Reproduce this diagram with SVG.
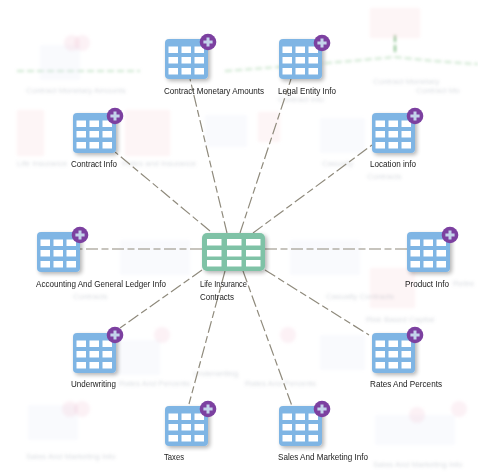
<svg xmlns="http://www.w3.org/2000/svg" width="478" height="472" viewBox="0 0 478 472">
<style>
.lb{font-family:"Liberation Sans",Arial,sans-serif;font-size:9.4px;fill:#222}
.lb text,text.lb{letter-spacing:0}
.gt{font-family:"Liberation Sans",Arial,sans-serif;font-size:8.05px;fill:#8a93a0;opacity:.32}
.c{fill:none;stroke:#8f8a7c;stroke-width:1.2;stroke-dasharray:12 3.5 7 3.5}
.t{fill:#7fb5e4}.m{fill:#7fc2a6}
.w{fill:#fff}
.p{fill:#7b3fa0}.pl{stroke:#c3d3ea;stroke-width:3;fill:none}
.gb{fill:#dfe8f4;opacity:.2}.gr{fill:#f6c9cf;opacity:.18}.gc{fill:#f3c8d6;opacity:.25}
</style>
<defs>
<filter id="s" x="-25%" y="-25%" width="155%" height="155%"><feGaussianBlur in="SourceAlpha" stdDeviation="2.2"/><feOffset dx="1.5" dy="1.5"/><feComponentTransfer><feFuncA type="linear" slope=".3"/></feComponentTransfer><feMerge><feMergeNode/><feMergeNode in="SourceGraphic"/></feMerge></filter>
<filter id="b"><feGaussianBlur stdDeviation=".35"/></filter>
<filter id="gb" x="-10%" y="-10%" width="120%" height="120%"><feGaussianBlur stdDeviation="1.4"/></filter>
<g id="tb"><rect class="t" width="43" height="40" rx="4"/>
<rect class="w" x="3.5" y="7.5" width="9.5" height="6.5"/><rect class="w" x="16.5" y="7.5" width="9.5" height="6.5"/><rect class="w" x="29.5" y="7.5" width="9.5" height="6.5"/>
<rect class="w" x="3.5" y="18" width="9.5" height="6.5"/><rect class="w" x="16.5" y="18" width="9.5" height="6.5"/><rect class="w" x="29.5" y="18" width="9.5" height="6.5"/>
<rect class="w" x="3.5" y="29" width="9.5" height="6.5"/><rect class="w" x="16.5" y="29" width="9.5" height="6.5"/><rect class="w" x="29.5" y="29" width="9.5" height="6.5"/></g>
<g id="pb"><circle class="p" r="8.3"/><path class="pl" d="M-4.6 0H4.6M0-4.6V4.6"/></g>
</defs>
<rect width="478" height="472" fill="#fff"/>
<g id="background" filter="url(#gb)">
<path d="M17 71H140M225 71Q320 64 395 57Q440 62 478 64" fill="none" stroke="#9ccf9f" stroke-width="2" stroke-dasharray="7 3" opacity=".5"/>
<path d="M395 35V54" stroke="#5aa860" stroke-width="1.5" stroke-dasharray="7 3" fill="none"/>
<rect class="gb" x="40" y="45" width="40" height="35"/><circle class="gc" cx="72" cy="43" r="8"/><circle class="gc" cx="82" cy="43" r="8"/>
<rect class="gr" x="17" y="110" width="27" height="46"/><rect class="gr" x="125" y="110" width="45" height="46"/>
<rect class="gb" x="205" y="115" width="42" height="32"/><rect class="gr" x="258" y="112" width="22" height="30"/>
<rect class="gb" x="320" y="118" width="45" height="35"/><rect class="gr" x="370" y="8" width="50" height="30"/>
<rect class="gr" x="370" y="268" width="45" height="40"/><rect class="gb" x="110" y="340" width="50" height="35"/><rect class="gb" x="320" y="335" width="45" height="35"/>
<rect class="gb" x="28" y="405" width="50" height="35"/><rect class="gb" x="375" y="415" width="80" height="30"/>
<circle class="gc" cx="162" cy="335" r="8"/><circle class="gc" cx="288" cy="335" r="8"/><circle class="gc" cx="70" cy="409" r="8"/><circle class="gc" cx="82" cy="409" r="8"/><circle class="gc" cx="417" cy="415" r="8"/><circle class="gc" cx="459" cy="409" r="8"/>
<rect class="gb" x="120" y="240" width="70" height="35"/><rect class="gb" x="290" y="240" width="70" height="35"/>
<text class="gt" x="26" y="93">Contract Monetary Amounts</text><text class="gt" x="17" y="166">Life Insurance</text><text class="gt" x="122" y="166">Rates and Insurance</text>
<text class="gt" x="373" y="84">Contract Monetary</text><text class="gt" x="416" y="93">Contract Mo</text><text class="gt" x="278" y="102">Contract Info</text>
<text class="gt" x="322" y="166">Casualty</text><text class="gt" x="367" y="179">Contracts</text>
<text class="gt" x="73" y="299">Contracts</text><text class="gt" x="326" y="299">Casualty Contracts</text><text class="gt" x="366" y="322">Risk Based Capital</text><text class="gt" x="453" y="286">Retire</text>
<text class="gt" x="119" y="386">Rates And Percents</text><text class="gt" x="245" y="386">Rates And Percents</text><text class="gt" x="193" y="376">Underwriting</text>
<text class="gt" x="26" y="459">Sales And Marketing Info</text><text class="gt" x="373" y="467">Sales And Marketing Info</text>
</g>
<g filter="url(#b)">
<g id="connectors">
<path class="c" d="M210 231L115 152"/>
<path class="c" d="M227 233L190 79"/>
<path class="c" d="M240 233L291 79"/>
<path class="c" d="M253 233L372 145"/>
<path class="c" d="M202 249H80"/>
<path class="c" d="M265 249H407"/>
<path class="c" d="M202 270L120 328"/>
<path class="c" d="M225 271L189 404"/>
<path class="c" d="M243 271L292 406"/>
<path class="c" d="M265 270L369 335"/>
</g>
<g id="center"><g transform="translate(202 233)" filter="url(#s)"><rect class="m" width="63" height="38" rx="5"/>
<rect class="w" x="5" y="6" width="14.5" height="6.5"/><rect class="w" x="25" y="6" width="14.5" height="6.5"/><rect class="w" x="44" y="6" width="14.5" height="6.5"/>
<rect class="w" x="5" y="17" width="14.5" height="6.5"/><rect class="w" x="25" y="17" width="14.5" height="6.5"/><rect class="w" x="44" y="17" width="14.5" height="6.5"/>
<rect class="w" x="5" y="27" width="14.5" height="6.5"/><rect class="w" x="25" y="27" width="14.5" height="6.5"/><rect class="w" x="44" y="27" width="14.5" height="6.5"/></g>
<text class="lb" x="200" y="286.5" textLength="47" lengthAdjust="spacingAndGlyphs">Life Insurance</text><text class="lb" x="200" y="299.5" textLength="34" lengthAdjust="spacingAndGlyphs">Contracts</text></g>
<g id="n1"><use href="#tb" x="165" y="39" filter="url(#s)"/><use href="#pb" x="208" y="42"/><text class="lb" x="164" y="93.5" textLength="100" lengthAdjust="spacingAndGlyphs">Contract Monetary Amounts</text></g>
<g id="n2"><use href="#tb" x="279" y="39" filter="url(#s)"/><use href="#pb" x="322" y="43"/><text class="lb" x="278" y="93.5" textLength="58" lengthAdjust="spacingAndGlyphs">Legal Entity Info</text></g>
<g id="n3"><use href="#tb" x="73" y="113" filter="url(#s)"/><use href="#pb" x="115" y="116"/><text class="lb" x="71" y="166.5" textLength="46" lengthAdjust="spacingAndGlyphs">Contract Info</text></g>
<g id="n4"><use href="#tb" x="372" y="113" filter="url(#s)"/><use href="#pb" x="415" y="116"/><text class="lb" x="370" y="166.5" textLength="46" lengthAdjust="spacingAndGlyphs">Location info</text></g>
<g id="n5"><use href="#tb" x="37" y="232" filter="url(#s)"/><use href="#pb" x="80" y="235"/><text class="lb" x="36" y="286.5" textLength="130" lengthAdjust="spacingAndGlyphs">Accounting And General Ledger Info</text></g>
<g id="n6"><use href="#tb" x="407" y="232" filter="url(#s)"/><use href="#pb" x="450" y="235"/><text class="lb" x="405" y="286.5" textLength="44" lengthAdjust="spacingAndGlyphs">Product Info</text></g>
<g id="n7"><use href="#tb" x="73" y="333" filter="url(#s)"/><use href="#pb" x="115" y="335"/><text class="lb" x="71" y="386.5" textLength="45" lengthAdjust="spacingAndGlyphs">Underwriting</text></g>
<g id="n8"><use href="#tb" x="372" y="333" filter="url(#s)"/><use href="#pb" x="415" y="335"/><text class="lb" x="370" y="386.5" textLength="72" lengthAdjust="spacingAndGlyphs">Rates And Percents</text></g>
<g id="n9"><use href="#tb" x="165" y="406" filter="url(#s)"/><use href="#pb" x="208" y="409"/><text class="lb" x="164" y="459.5" textLength="20" lengthAdjust="spacingAndGlyphs">Taxes</text></g>
<g id="n10"><use href="#tb" x="279" y="406" filter="url(#s)"/><use href="#pb" x="322" y="409"/><text class="lb" x="278" y="459.5" textLength="90" lengthAdjust="spacingAndGlyphs">Sales And Marketing Info</text></g>
</g>
</svg>
